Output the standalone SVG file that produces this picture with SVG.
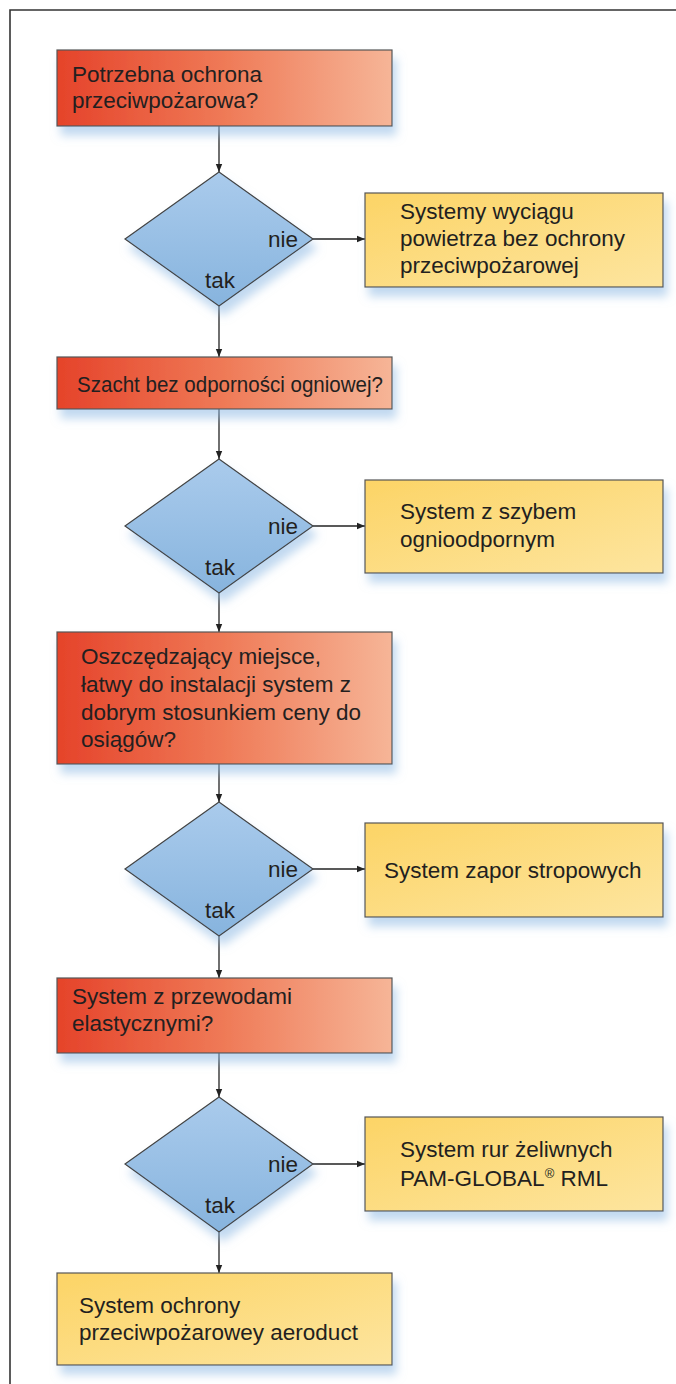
<svg xmlns="http://www.w3.org/2000/svg" width="676" height="1384" viewBox="0 0 676 1384">
  <style>
    .t { font-family: "Liberation Sans", Arial, sans-serif; font-size: 22.5px; fill: #231f20; }
    .lbl { font-family: "Liberation Sans", Arial, sans-serif; font-size: 22.5px; fill: #231f20; }
    .q { fill: url(#gRed); stroke: #555; stroke-width: 1.2; filter: url(#sh); }
    .r { fill: url(#gYel); stroke: #555; stroke-width: 1.2; filter: url(#sh); }
    .d { fill: url(#gBlue); stroke: #444; stroke-width: 1.2; filter: url(#sh); }
    .c { stroke: #222; stroke-width: 1.3; fill: none; marker-end: url(#arr); }
  </style>
  <defs>
    <linearGradient id="gRed" x1="0" y1="0" x2="1" y2="0">
      <stop offset="0" stop-color="#e5432a"/>
      <stop offset="0.5" stop-color="#ef7a57"/>
      <stop offset="1" stop-color="#f6b597"/>
    </linearGradient>
    <linearGradient id="gYel" x1="0" y1="0" x2="1" y2="1">
      <stop offset="0" stop-color="#fcd466"/>
      <stop offset="1" stop-color="#fde59f"/>
    </linearGradient>
    <linearGradient id="gBlue" x1="0" y1="0" x2="0" y2="1">
      <stop offset="0" stop-color="#aacbec"/>
      <stop offset="1" stop-color="#87b4de"/>
    </linearGradient>
    <filter id="sh" x="-10%" y="-20%" width="125%" height="160%">
      <feDropShadow dx="4" dy="9" stdDeviation="5" flood-color="#8fb9e3" flood-opacity="0.55"/>
    </filter>
    <marker id="arr" viewBox="0 0 10 10" refX="10" refY="5" markerWidth="8" markerHeight="8" orient="auto" markerUnits="userSpaceOnUse">
      <path d="M0,1 L10,5 L0,9 z" fill="#222"/>
    </marker>
  </defs>

  <rect width="676" height="1384" fill="#ffffff"/>
  <!-- page frame: top and left rules -->
  <path d="M10,1384 V10 H676" fill="none" stroke="#333" stroke-width="1.6"/>

  <g id="connectors">
    <line class="c" x1="219" y1="126" x2="219" y2="172"/>
    <line class="c" x1="219" y1="306" x2="219" y2="357"/>
    <line class="c" x1="219" y1="409" x2="219" y2="459"/>
    <line class="c" x1="219" y1="593" x2="219" y2="632"/>
    <line class="c" x1="219" y1="764" x2="219" y2="802"/>
    <line class="c" x1="219" y1="936" x2="219" y2="978"/>
    <line class="c" x1="219" y1="1053" x2="219" y2="1097"/>
    <line class="c" x1="219" y1="1232" x2="219" y2="1273"/>
    <line class="c" x1="313" y1="239" x2="365" y2="239"/>
    <line class="c" x1="313" y1="526" x2="365" y2="526"/>
    <line class="c" x1="313" y1="869" x2="365" y2="869"/>
    <line class="c" x1="313" y1="1164" x2="365" y2="1164"/>
  </g>

  <g id="q1">
    <rect class="q" x="57" y="50" width="335" height="76"/>
    <text class="t" x="72" y="82">Potrzebna ochrona</text>
    <text class="t" x="72" y="108">przeciwpożarowa?</text>
  </g>
  <g id="d1">
    <polygon class="d" points="219,172 313,239 219,306 125,239"/>
    <text class="lbl" x="298" y="247" text-anchor="end">nie</text>
    <text class="lbl" x="220" y="288" text-anchor="middle">tak</text>
  </g>
  <g id="r1">
    <rect class="r" x="365" y="193" width="298" height="94"/>
    <text class="t" x="400" y="219">Systemy wyciągu</text>
    <text class="t" x="400" y="246">powietrza bez ochrony</text>
    <text class="t" x="400" y="273">przeciwpożarowej</text>
  </g>

  <g id="q2">
    <rect class="q" x="57" y="357" width="335" height="52"/>
    <text class="t" x="77" y="392" textLength="306" lengthAdjust="spacingAndGlyphs">Szacht bez odporności ogniowej?</text>
  </g>
  <g id="d2">
    <polygon class="d" points="219,459 313,526 219,593 125,526"/>
    <text class="lbl" x="298" y="534" text-anchor="end">nie</text>
    <text class="lbl" x="220" y="575" text-anchor="middle">tak</text>
  </g>
  <g id="r2">
    <rect class="r" x="365" y="480" width="298" height="93"/>
    <text class="t" x="400" y="519">System z szybem</text>
    <text class="t" x="400" y="547">ognioodpornym</text>
  </g>

  <g id="q3">
    <rect class="q" x="57" y="632" width="335" height="132"/>
    <text class="t" x="81" y="664">Oszczędzający miejsce,</text>
    <text class="t" x="81" y="692">łatwy do instalacji system z</text>
    <text class="t" x="81" y="720">dobrym stosunkiem ceny do</text>
    <text class="t" x="81" y="747">osiągów?</text>
  </g>
  <g id="d3">
    <polygon class="d" points="219,802 313,869 219,936 125,869"/>
    <text class="lbl" x="298" y="877" text-anchor="end">nie</text>
    <text class="lbl" x="220" y="918" text-anchor="middle">tak</text>
  </g>
  <g id="r3">
    <rect class="r" x="365" y="823" width="298" height="94"/>
    <text class="t" x="384" y="878">System zapor stropowych</text>
  </g>

  <g id="q4">
    <rect class="q" x="57" y="978" width="335" height="75"/>
    <text class="t" x="72" y="1004">System z przewodami</text>
    <text class="t" x="72" y="1031">elastycznymi?</text>
  </g>
  <g id="d4">
    <polygon class="d" points="219,1097 313,1164 219,1232 125,1164"/>
    <text class="lbl" x="298" y="1172" text-anchor="end">nie</text>
    <text class="lbl" x="220" y="1213" text-anchor="middle">tak</text>
  </g>
  <g id="r4">
    <rect class="r" x="365" y="1117" width="298" height="94"/>
    <text class="t" x="400" y="1157">System rur żeliwnych</text>
    <text class="t" x="400" y="1186">PAM-GLOBAL<tspan font-size="13" dy="-8">®</tspan><tspan dy="8"> RML</tspan></text>
  </g>

  <g id="r5">
    <rect class="r" x="57" y="1273" width="335" height="92"/>
    <text class="t" x="79" y="1313">System ochrony</text>
    <text class="t" x="79" y="1340">przeciwpożarowey aeroduct</text>
  </g>
</svg>
